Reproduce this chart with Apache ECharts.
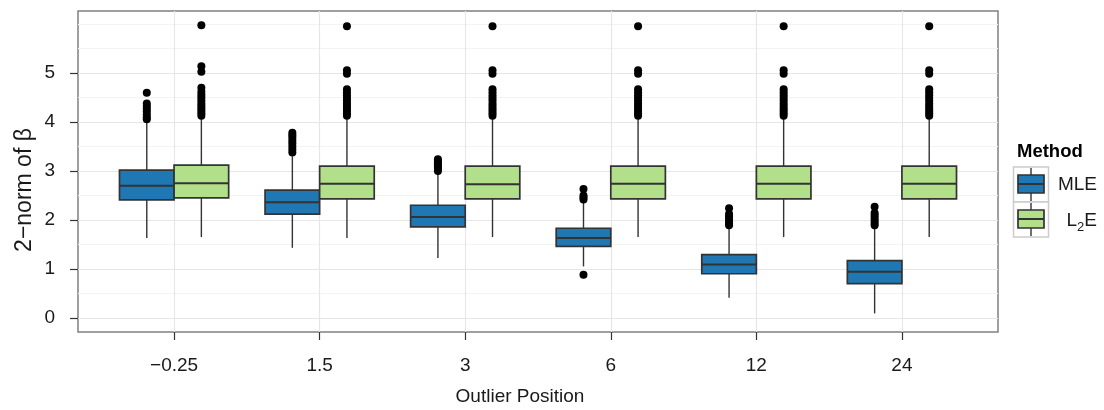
<!DOCTYPE html>
<html>
<head>
<meta charset="utf-8">
<script src="https://cdn.jsdelivr.net/npm/echarts@6/dist/echarts.min.js"></script>
<style>
  html, body { margin: 0; padding: 0; background: #fff; }
  #chart { width: 1104px; height: 410px; }
</style>
</head>
<body>
<div id="chart"></div>
<script>
// outlier positions (x categories)
const positions = ['\u22120.25', '1.5', '3', '6', '12', '24'];

// MLE: whisker low, Q1, median, Q3, whisker high
const mleLow  = [1.63, 1.43, 1.22, 1.05, 0.41, 0.09];
const mleQ1   = [2.41, 2.12, 1.86, 1.46, 0.90, 0.70];
const mleMed  = [2.70, 2.36, 2.06, 1.63, 1.09, 0.94];
const mleQ3   = [3.02, 2.61, 2.30, 1.83, 1.29, 1.17];
const mleHigh = [4.02, 3.30, 2.95, 2.36, 1.86, 1.86];

// L2E
const l2eLow  = [1.65, 1.63, 1.65, 1.65, 1.65, 1.65];
const l2eQ1   = [2.45, 2.43, 2.43, 2.43, 2.43, 2.43];
const l2eMed  = [2.75, 2.74, 2.73, 2.74, 2.74, 2.74];
const l2eQ3   = [3.12, 3.10, 3.10, 3.10, 3.10, 3.10];
const l2eHigh = [4.08, 4.06, 4.06, 4.06, 4.06, 4.06];

// outlying points
const mleOut = [
  [4.60, 4.38, 4.33, 4.28, 4.22, 4.16, 4.10, 4.06],
  [3.78, 3.73, 3.68, 3.62, 3.56, 3.50, 3.44, 3.38],
  [3.24, 3.20, 3.16, 3.12, 3.08, 3.04, 3.00],
  [2.63, 2.50, 2.46, 2.42, 0.88],
  [2.24, 2.12, 2.07, 2.02, 1.97, 1.92, 1.89],
  [2.27, 2.14, 2.09, 2.04, 1.99, 1.94, 1.89]
];
const l2eOut = [
  [5.98, 5.14, 5.03, 4.70, 4.62, 4.56, 4.50, 4.44, 4.38, 4.33, 4.28, 4.23, 4.18, 4.13],
  [5.96, 5.06, 4.99, 4.67, 4.61, 4.55, 4.49, 4.44, 4.38, 4.33, 4.28, 4.23, 4.18, 4.13],
  [5.96, 5.06, 4.99, 4.67, 4.61, 4.55, 4.49, 4.44, 4.38, 4.33, 4.28, 4.23, 4.18, 4.13],
  [5.96, 5.06, 4.99, 4.67, 4.61, 4.55, 4.49, 4.44, 4.38, 4.33, 4.28, 4.23, 4.18, 4.13],
  [5.96, 5.06, 4.99, 4.67, 4.61, 4.55, 4.49, 4.44, 4.38, 4.33, 4.28, 4.23, 4.18, 4.13],
  [5.96, 5.06, 4.99, 4.67, 4.61, 4.55, 4.49, 4.44, 4.38, 4.33, 4.28, 4.23, 4.18, 4.13]
];

const yMajor = [0, 1, 2, 3, 4, 5];
const yMinor = [0.5, 1.5, 2.5, 3.5, 4.5, 5.5, 6];

const FONT = 'Liberation Sans, Arial, sans-serif';
const EDGE = '#333333';
const BLUE = '#1f78b4';
const GREEN = '#b2df8a';
const BOX_W = 0.375;
const DODGE = 0.1875;

const chart = echarts.init(document.getElementById('chart'));

function boxRenderer(dodge, fill) {
  return function (params, api) {
    const x = api.value(0) + dodge;
    const half = api.size([BOX_W, 0])[0] / 2;
    const pLow = api.coord([x, api.value(1)]);
    const pQ1 = api.coord([x, api.value(2)]);
    const pMed = api.coord([x, api.value(3)]);
    const pQ3 = api.coord([x, api.value(4)]);
    const pHigh = api.coord([x, api.value(5)]);
    const cx = pLow[0];
    const whisker = { stroke: EDGE, lineWidth: 1.4 };
    return {
      type: 'group',
      children: [
        { type: 'line', shape: { x1: cx, y1: pLow[1], x2: cx, y2: pQ1[1] }, style: whisker },
        { type: 'line', shape: { x1: cx, y1: pQ3[1], x2: cx, y2: pHigh[1] }, style: whisker },
        {
          type: 'rect',
          shape: { x: cx - half, y: pQ3[1], width: half * 2, height: pQ1[1] - pQ3[1] },
          style: { fill: fill, stroke: EDGE, lineWidth: 1.7 }
        },
        {
          type: 'line',
          shape: { x1: cx - half, y1: pMed[1], x2: cx + half, y2: pMed[1] },
          style: { stroke: EDGE, lineWidth: 2 }
        }
      ]
    };
  };
}

const mleBoxes = positions.map((p, i) => [i, mleLow[i], mleQ1[i], mleMed[i], mleQ3[i], mleHigh[i]]);
const l2eBoxes = positions.map((p, i) => [i, l2eLow[i], l2eQ1[i], l2eMed[i], l2eQ3[i], l2eHigh[i]]);

function outlierPoints(groups, dodge) {
  const pts = [];
  groups.forEach((vals, i) => vals.forEach(v => pts.push([i + dodge, v])));
  return pts;
}

const catIdx = positions.map((p, i) => i);

// legend key glyph
function legendKey(y, fill) {
  return [
    { type: 'rect', shape: { x: 1013.5, y: y, width: 35, height: 35 },
      style: { fill: '#fff', stroke: '#cccccc', lineWidth: 1.5 } },
    { type: 'line', shape: { x1: 1031, y1: y + 1, x2: 1031, y2: y + 34 },
      style: { stroke: EDGE, lineWidth: 1.4 } },
    { type: 'rect', shape: { x: 1018, y: y + 8, width: 26, height: 18 },
      style: { fill: fill, stroke: EDGE, lineWidth: 1.7 } },
    { type: 'line', shape: { x1: 1018, y1: y + 17, x2: 1044, y2: y + 17 },
      style: { stroke: EDGE, lineWidth: 2 } }
  ];
}

const option = {
  animation: false,
  backgroundColor: '#fff',
  textStyle: { fontFamily: FONT },
  grid: {
    left: 78, right: 106, top: 11, bottom: 78,
    show: true, backgroundColor: '#fff',
    borderColor: '#808080', borderWidth: 1.5
  },
  xAxis: {
    type: 'value',
    min: -0.66, max: 5.66,
    axisLine: { show: false, onZero: false },
    axisTick: { show: true, inside: false, length: 8, customValues: catIdx, lineStyle: { color: EDGE, width: 1.2 } },
    axisLabel: {
      customValues: catIdx, margin: 24,
      formatter: v => positions[Math.round(v)],
      fontSize: 19, color: '#1a1a1a', fontFamily: FONT
    },
    splitLine: { show: true, lineStyle: { color: '#e6e6e6', width: 1.2 } }
  },
  yAxis: [
    {
      type: 'value',
      min: -0.29, max: 6.27,
      position: 'left',
      axisLine: { show: false, onZero: false },
      axisTick: { show: true, inside: false, length: 8, customValues: yMajor, lineStyle: { color: EDGE, width: 1.2 } },
      axisLabel: { customValues: yMajor, margin: 23, fontSize: 19, color: '#1a1a1a', fontFamily: FONT },
      splitLine: { show: true, lineStyle: { color: '#e6e6e6', width: 1.2 } }
    },
    {
      type: 'value',
      min: -0.29, max: 6.27,
      position: 'right',
      axisLine: { show: false, onZero: false },
      axisTick: { show: false, customValues: yMinor },
      axisLabel: { show: false, customValues: yMinor },
      splitLine: { show: true, lineStyle: { color: '#f3f3f3', width: 1.2 } }
    }
  ],
  series: [
    {
      name: 'MLE', type: 'custom', renderItem: boxRenderer(-DODGE, BLUE),
      data: mleBoxes, encode: { x: 0, y: [1, 2, 3, 4, 5] }, z: 3
    },
    {
      name: 'L2E', type: 'custom', renderItem: boxRenderer(DODGE, GREEN),
      data: l2eBoxes, encode: { x: 0, y: [1, 2, 3, 4, 5] }, z: 3
    },
    {
      type: 'scatter', data: outlierPoints(mleOut, -DODGE), symbolSize: 8,
      itemStyle: { color: '#000', opacity: 1 }, z: 4, silent: true
    },
    {
      type: 'scatter', data: outlierPoints(l2eOut, DODGE), symbolSize: 8,
      itemStyle: { color: '#000', opacity: 1 }, z: 4, silent: true
    }
  ],
  graphic: [
    { type: 'text', x: 520, y: 397,
      style: { text: 'Outlier Position', font: '19px ' + FONT, fill: '#1a1a1a', align: 'center', verticalAlign: 'middle' } },
    { type: 'text', x: 25, y: 190, rotation: Math.PI / 2,
      style: { text: '2\u2212norm of \u03b2', font: '23px ' + FONT, fill: '#1a1a1a', align: 'center', verticalAlign: 'middle' } },
    { type: 'text', x: 1017, y: 152,
      style: { text: 'Method', font: 'bold 18.5px ' + FONT, fill: '#000', align: 'left', verticalAlign: 'middle' } },
    ...legendKey(167, BLUE),
    ...legendKey(202, GREEN),
    { type: 'text', x: 1097, y: 185,
      style: { text: 'MLE', font: '19px ' + FONT, fill: '#1a1a1a', align: 'right', verticalAlign: 'middle' } },
    { type: 'text', x: 1097, y: 220,
      style: {
        text: '{n|L}{s|2}{n|E}', align: 'right', verticalAlign: 'middle',
        rich: {
          n: { fontSize: 19, fontFamily: FONT, fill: '#1a1a1a', lineHeight: 20, verticalAlign: 'bottom' },
          s: { fontSize: 13, fontFamily: FONT, fill: '#1a1a1a', lineHeight: 20, verticalAlign: 'bottom', padding: [0, 0, -4, 0] }
        }
      } }
  ]
};

chart.setOption(option);
</script>
</body>
</html>
